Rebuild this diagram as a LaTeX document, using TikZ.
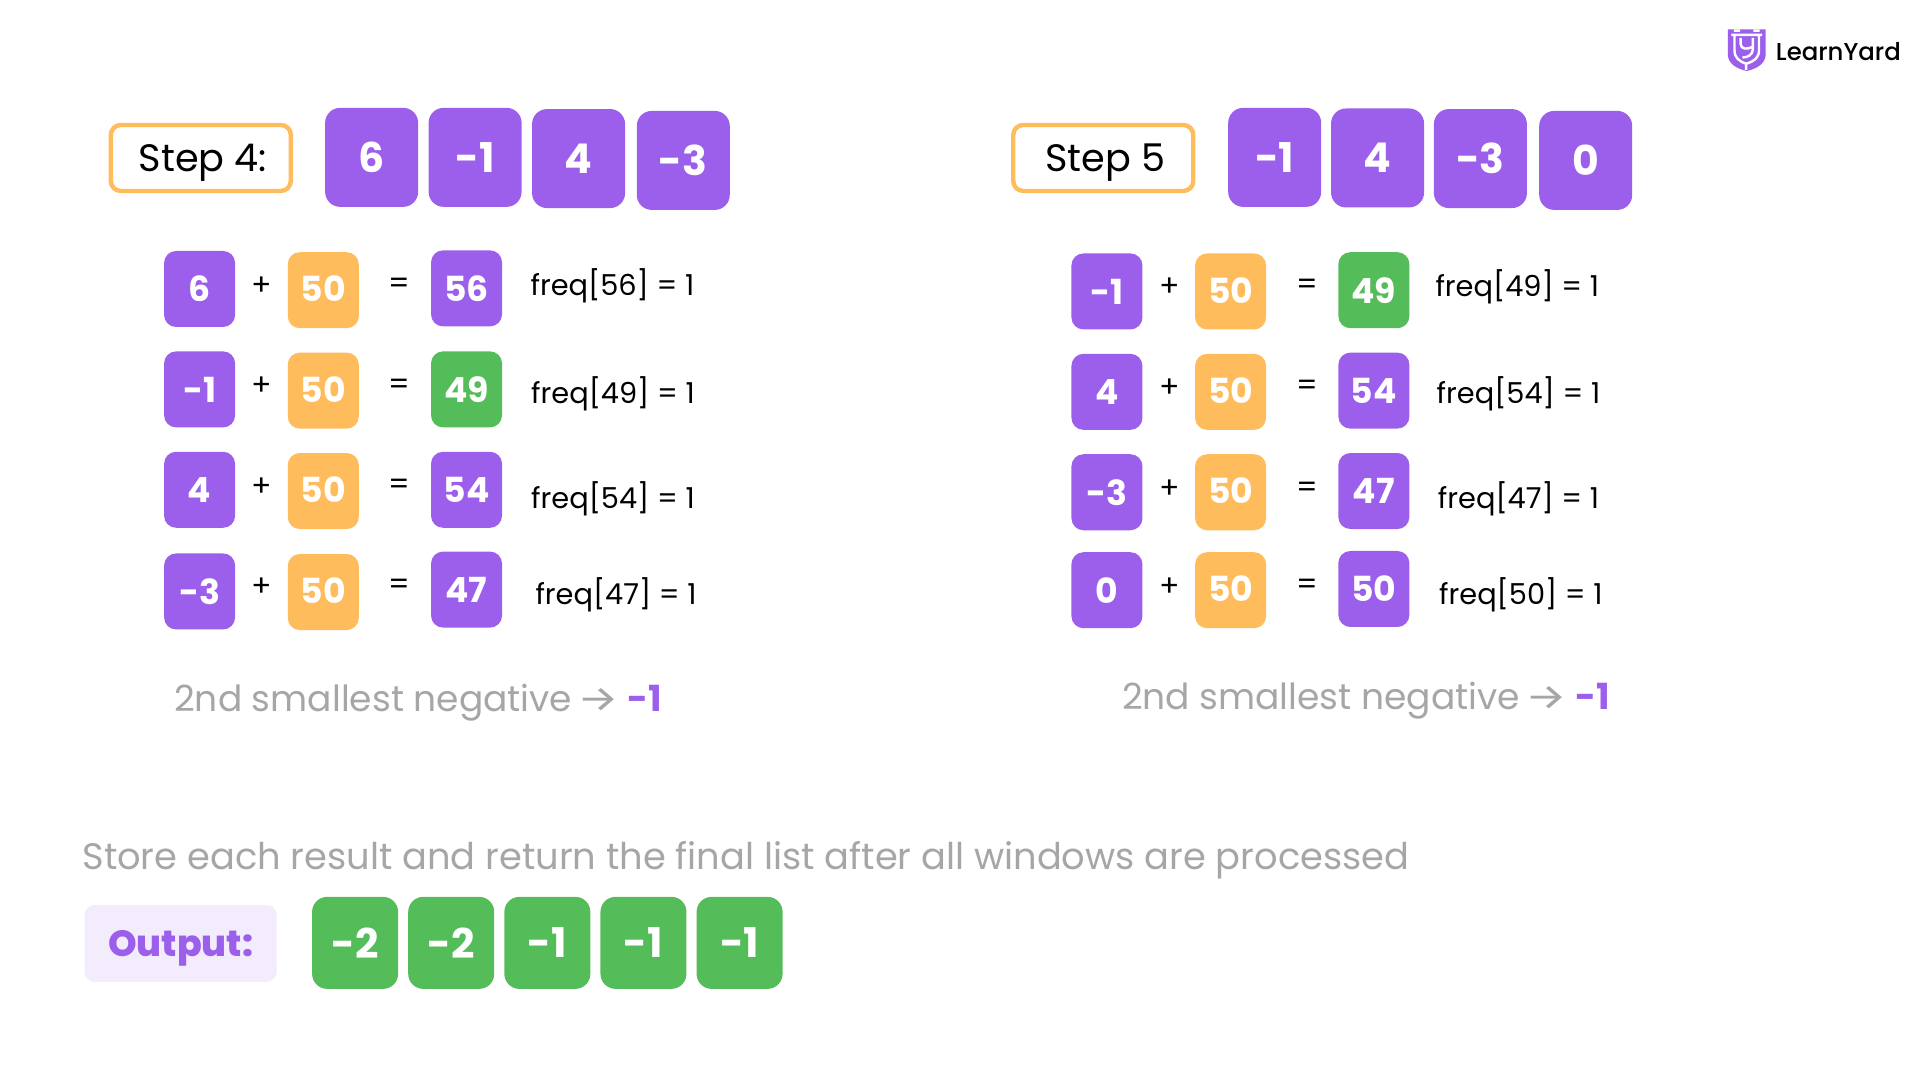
\documentclass[tikz,border=0pt]{standalone}
\usepackage{graphicx}
\usepackage{fontspec}
\setmainfont{Poppins}
\newfontfamily\arrowfont{Fira Sans}
\newfontfamily\heavyfont{Poppins ExtraBold}
\newfontfamily\logofont{Poppins Medium}
\definecolor{boxpurple}{HTML}{9B5FEB}
\definecolor{boxorange}{HTML}{FFBC5C}
\definecolor{boxgreen}{HTML}{54BC58}
\definecolor{softgray}{HTML}{A6A6A6}
\definecolor{softlilac}{HTML}{F2ECFD}
\newcommand{\longarrow}{\hspace*{-2pt}{\arrowfont\scalebox{1.3}[1]{→}}\hspace*{-1pt}}
\tikzset{
x=0.6122pt, y=-0.6122pt, % one unit is one pixel of the 1568 wide layout
numbox/.style={rounded corners=7.5pt, text=white, inner sep=0pt, align=center},
topbox/.style={numbox, fill=boxpurple, minimum width=46.5pt, minimum height=49.5pt, font=\bfseries\fontsize{20.5}{24}\selectfont}, % the windows
valbox/.style={numbox, rounded corners=6pt, fill=boxpurple, minimum width=35.5pt, minimum height=38pt, font=\bfseries\fontsize{17.3}{20}\selectfont},
offbox/.style={valbox, fill=boxorange, text depth=1.2pt},
hitbox/.style={valbox, fill=boxgreen},
outbox/.style={numbox, fill=boxgreen, minimum width=43pt, minimum height=46pt, font=\bfseries\fontsize{20.5}{24}\selectfont},
stepbox/.style={draw=boxorange, line width=2.2pt, rounded corners=5pt, fill=white, minimum width=90pt, minimum height=33pt, inner sep=0pt, text height=14pt, text depth=0.5pt, font=\fontsize{19.1}{22}\selectfont},
optext/.style={inner sep=0pt, yshift=-1pt, font=\fontsize{15}{18}\selectfont},
freqtext/.style={anchor=west, inner sep=0pt, font=\fontsize{14.4}{18}\selectfont},
graytext/.style={anchor=west, inner sep=0pt, text=softgray, font=\fontsize{18.4}{22}\selectfont},
notetext/.style={graytext, font=\fontsize{18}{22}\selectfont},
}

\begin{document}
\begin{tikzpicture}
\useasboundingbox (0,0) rectangle (1568,882);

% logo
\fill[boxpurple] (1411,24) -- (1442,24) -- (1442,44) .. controls (1442,52) and (1435,56) .. (1426.5,58) .. controls (1418,56) and (1411,52) .. (1411,44) -- cycle;
\fill[white] (1416,24) rectangle (1421,26) (1432,24) rectangle (1437,26);
\draw[white, line width=1.2pt] (1414,28.5) -- (1439,28.5)
(1416.5,29) -- (1416.5,41) .. controls (1416.5,47) and (1420,50) .. (1426,52)
(1436.5,29) -- (1436.5,41) .. controls (1436.5,47) and (1433,50) .. (1426,52) -- (1426,57)
(1421.5,31) -- (1421.5,36) .. controls (1421.5,40) and (1427,41) .. (1431.5,38)
(1431.5,31) -- (1431.5,40) .. controls (1431.5,45) and (1427,47) .. (1423,47);
\node[inner sep=0pt, anchor=west, font=\logofont\fontsize{12.2}{15}\selectfont] (logotext) at (1450,42) {LearnYard};

% step 4
\node[stepbox] (stepa) at (164,129) {\hspace*{2pt}Step 4:};
\node[topbox] (a1) at (303.5,128.5) {6};
\node[topbox] (a2) at (388,128.5) {-1};
\node[topbox] (a3) at (472.5,129.5) {4};
\node[topbox] (a4) at (558,131) {-3};

\node[valbox] (av1) at (163,236) {6};
\node[optext] (ap1) at (213.5,232) {+};
\node[offbox] (ao1) at (264,237) {50};
\node[optext] (ae1) at (326,232) {=};
\node[valbox] (ar1) at (381,235.5) {56};
\node[freqtext] (af1) at (433,233) {freq[56] = 1};

\node[valbox] (av2) at (163,318) {-1};
\node[optext] (ap2) at (213.5,314) {+};
\node[offbox] (ao2) at (264,319) {50};
\node[optext] (ae2) at (326,314) {=};
\node[hitbox] (ar2) at (381,318) {49};
\node[freqtext] (af2) at (433.5,322) {freq[49] = 1};

\node[valbox] (av3) at (163,400) {4};
\node[optext] (ap3) at (213.5,396) {+};
\node[offbox] (ao3) at (264,401) {50};
\node[optext] (ae3) at (326,396) {=};
\node[valbox] (ar3) at (381,400) {54};
\node[freqtext] (af3) at (433.5,407) {freq[54] = 1};

\node[valbox] (av4) at (163,483) {-3};
\node[optext] (ap4) at (213.5,478) {+};
\node[offbox] (ao4) at (264,483.5) {50};
\node[optext] (ae4) at (326,478) {=};
\node[valbox] (ar4) at (381,481.5) {47};
\node[freqtext] (af4) at (437,486) {freq[47] = 1};

\node[notetext] (anote) at (142,574) {2nd smallest negative \longarrow{} \textcolor{boxpurple}{\bfseries -1}};

% step 5
\node[stepbox] (stepb) at (901,129) {\hspace*{2pt}Step 5};
\node[topbox] (b1) at (1041,128.5) {-1};
\node[topbox] (b2) at (1125,129) {4};
\node[topbox] (b3) at (1209,129.5) {-3};
\node[topbox] (b4) at (1295,131) {0};

\node[valbox] (bv1) at (904,238) {-1};
\node[optext] (bp1) at (955,233) {+};
\node[offbox] (bo1) at (1005,238) {50};
\node[optext] (be1) at (1068,233) {=};
\node[hitbox] (br1) at (1122,237) {49};
\node[freqtext] (bf1) at (1172,234) {freq[49] = 1};

\node[valbox] (bv2) at (904,320) {4};
\node[optext] (bp2) at (955,315) {+};
\node[offbox] (bo2) at (1005,320) {50};
\node[optext] (be2) at (1068,315) {=};
\node[valbox] (br2) at (1122,319) {54};
\node[freqtext] (bf2) at (1173,322) {freq[54] = 1};

\node[valbox] (bv3) at (904,402) {-3};
\node[optext] (bp3) at (955,398) {+};
\node[offbox] (bo3) at (1005,402) {50};
\node[optext] (be3) at (1068,398) {=};
\node[valbox] (br3) at (1122,401) {47};
\node[freqtext] (bf3) at (1174,407) {freq[47] = 1};

\node[valbox] (bv4) at (904,482) {0};
\node[optext] (bp4) at (955,478) {+};
\node[offbox] (bo4) at (1005,482) {50};
\node[optext] (be4) at (1068,478) {=};
\node[valbox] (br4) at (1122,481) {50};
\node[freqtext] (bf4) at (1175,486) {freq[50] = 1};

\node[notetext] (bnote) at (916,572) {2nd smallest negative \longarrow{} \textcolor{boxpurple}{\bfseries -1}};

% result
\node[graytext] (store) at (67,702.5) {Store each result and return the final list after all windows are processed};
\node[numbox, fill=softlilac, text=boxpurple, rounded corners=5pt, minimum width=96pt, minimum height=38.5pt, text height=13pt, text depth=0.3pt, font=\heavyfont\fontsize{18.2}{22}\selectfont] (outlabel) at (147.5,770.5) {Output:};
\node[outbox] (c1) at (290,770) {-2};
\node[outbox] (c2) at (368.5,770) {-2};
\node[outbox] (c3) at (447,770) {-1};
\node[outbox] (c4) at (525.5,770) {-1};
\node[outbox] (c5) at (604,770) {-1};
\end{tikzpicture}
\end{document}
